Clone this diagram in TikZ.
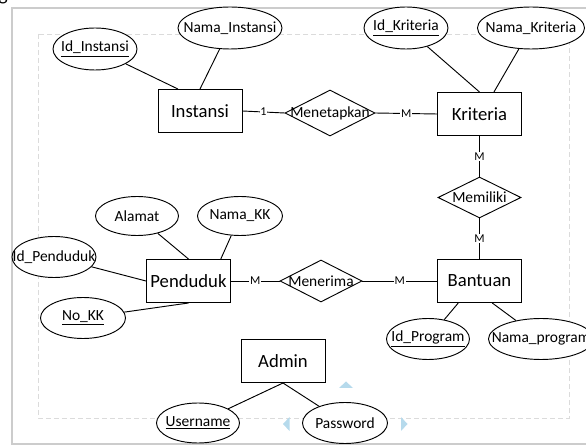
\documentclass[tikz,border=0pt]{standalone}
\usepackage{fontspec}
\setmainfont{Carlito}
\usetikzlibrary{shapes.geometric,calc}
\definecolor{tri}{RGB}{182,218,236}
\begin{document}
\begin{tikzpicture}[x=0.75pt,y=-0.75pt,
  sz/.style 2 args={minimum width=#1*0.75pt, minimum height=#2*0.75pt},
  ent/.style={draw, line width=0.75pt, fill=white, inner sep=0pt, sz={84}{43},
    font=\fontsize{14}{16}\selectfont},
  attr/.style={ellipse, draw, line width=0.7pt, fill=white, inner sep=0pt,
    label={[font=\fontsize{11.6}{13}\selectfont]center:#1}},
  rel/.style={diamond, draw, line width=0.7pt, fill=white, inner sep=0pt,
    label={[font=\fontsize{11.6}{13}\selectfont]center:#1}},
  conn/.style={line width=0.7pt},
  card/.style={fill=white, inner sep=0.6pt, font=\fontsize{9}{10}\selectfont},
  frameline/.style={draw=gray!40, line width=1.5pt},
  dashframe/.style={draw=gray!28, line width=0.6pt, dash pattern=on 4pt off 2pt}
]
\useasboundingbox (0,0) rectangle (586,445);
% frames
\draw[frameline] (12,460) -- (12,8) -- (600,8);
\draw[frameline] (11,444) -- (600,444);
\draw[dashframe] (38,34) rectangle (569,418);
\node[anchor=base, font=\fontsize{15}{16}\selectfont, inner sep=0pt] (gl) at (3,0.5) {g};

% entities
\node[ent] (inst) at (200,111) {Instansi};
\node[ent] (krit) at (479.5,114) {Kriteria};
\node[ent] (pend) at (188.5,281) {Penduduk};
\node[ent] (bant) at (479.5,281) {Bantuan};
\node[ent] (admin) at (283,361) {Admin};

% relationships
\node[rel=Menetapkan, sz={90}{46}] (menet) at (330,113) {};
\node[rel=Memiliki, sz={83}{41}] (memil) at (479.5,197.5) {};
\node[rel=Menerima, sz={82}{42}] (mener) at (321,281) {};

% anchor points on entity borders
\coordinate (inst1) at ($(inst.north west)!0.24!(inst.north east)$);
\coordinate (krit1) at ($(krit.north west)!0.67!(krit.north east)$);
\coordinate (pend1) at ($(pend.north west)!0.88!(pend.north east)$);
\coordinate (bant1) at ($(bant.south west)!0.25!(bant.south east)$);
\coordinate (bant2) at ($(bant.south west)!0.65!(bant.south east)$);

% attributes
\node[attr={\underline{Id\_Instansi}}, sz={84}{42}] (idi) at (95,49) {};
\node[attr={Nama\_Instansi}, sz={104}{42}] (nmi) at (230,28) {};
\node[attr={\underline{Id\_Kriteria}}, sz={84}{42}] (idk) at (406,28) {};
\node[attr={Nama\_Kriteria}, sz={107}{42}] (nmk) at (531,28) {};
\node[attr={Alamat}, sz={83}{39}] (alm) at (137,216) {};
\node[attr={Nama\_KK}, sz={85}{39}] (nkk) at (240,216) {};
\node[attr={Id\_Penduduk}, sz={84}{41}] (idp) at (54,257) {};
\node[attr={\underline{No\_KK}}, sz={85}{41}] (nokk) at (83,318) {};
\node[attr={\underline{Id\_Program}}, sz={83}{41}] (idprog) at (428,339) {};
\node[attr={Nama\_program}, sz={105}{41}] (nmprog) at (541,339) {};
\node[attr={\underline{Username}}, sz={83}{40}] (user) at (198,423) {};
\node[attr={Password}, sz={85}{41}] (pass) at (345,423) {};

\draw[conn] (idi) -- (inst1);
\draw[conn] (nmi) -- (inst.north);
\draw[conn] (idk) -- (krit.north);
\draw[conn] (nmk) -- (krit1);
\draw[conn] (alm) -- (pend.north);
\draw[conn] (nkk) -- (pend1);
\draw[conn] (idp) -- (pend.west);
\draw[conn] (nokk) -- (pend.south);
\draw[conn] (idprog) -- (bant1);
\draw[conn] (nmprog) -- (bant2);
\draw[conn] (user) -- (admin.south);
\draw[conn] (pass) -- (admin.south);

% relationship connectors
\draw[conn] (inst.east) -- node[card] {1} (menet.west);
\draw[conn] (menet.east) -- node[card] {M} (krit.west);
\draw[conn] (krit.south) -- node[card] {M} (memil.north);
\draw[conn] (memil.south) -- node[card] {M} (bant.north);
\draw[conn] (pend.east) -- node[card] {M} (mener.west);
\draw[conn] (mener.east) -- node[card] {M} (bant.west);

% light blue handles
\fill[tri] (339,388) -- (353,388) -- (346,381.5) -- cycle;
\fill[tri] (289.5,417) -- (289.5,431) -- (283,424) -- cycle;
\fill[tri] (401,417) -- (401,431) -- (407.5,424) -- cycle;
\end{tikzpicture}
\end{document}
